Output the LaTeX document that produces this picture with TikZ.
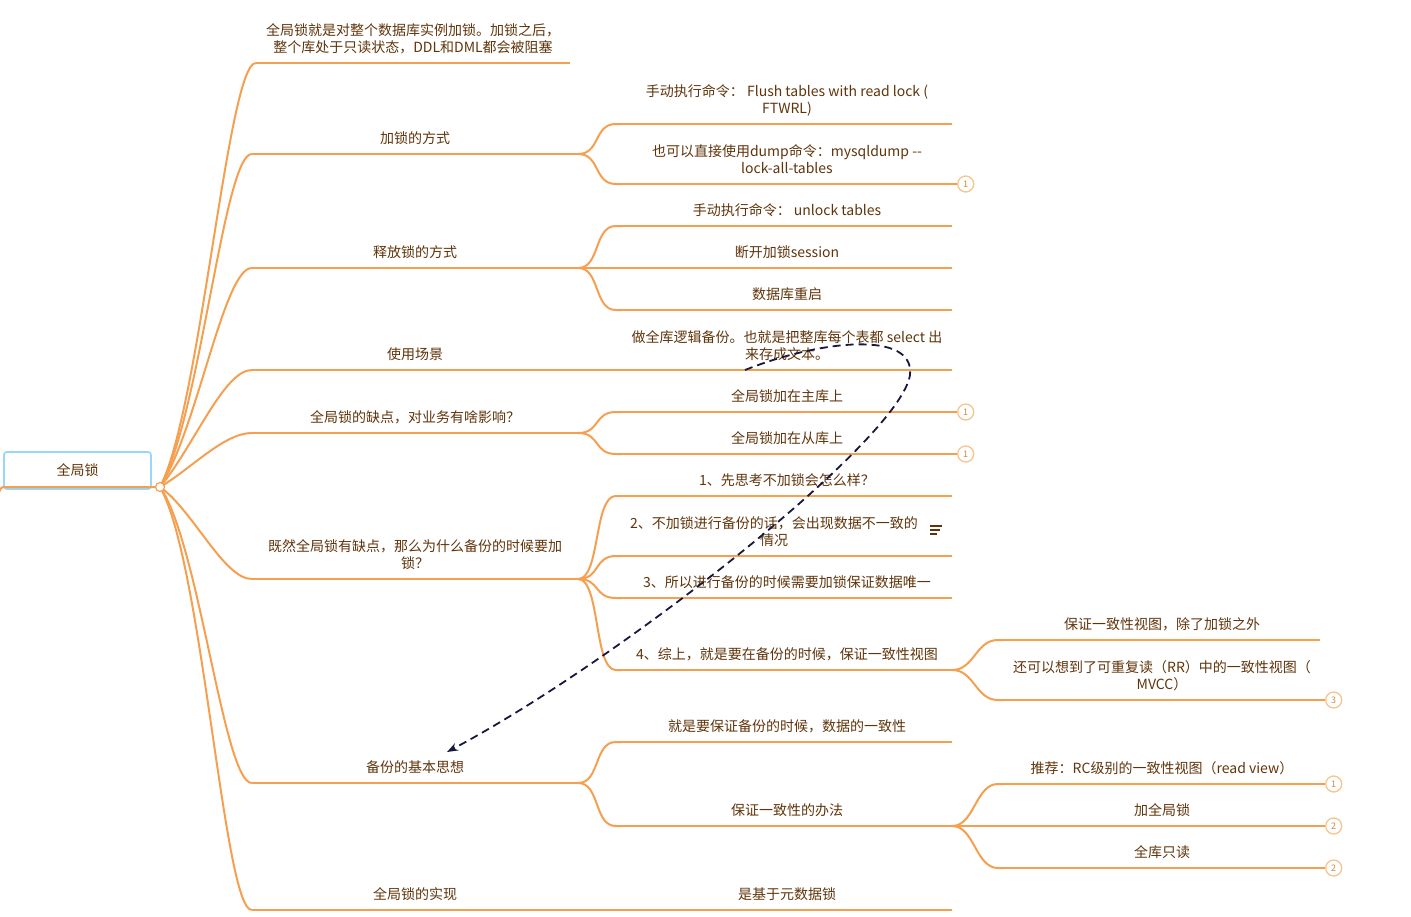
\documentclass[tikz,border=0pt]{standalone}
\usepackage{fontspec}
\setmainfont{Noto Sans CJK SC}
\usetikzlibrary{arrows.meta}

\definecolor{ink}{RGB}{96,52,10}
\definecolor{twig}{RGB}{245,160,80}
\definecolor{sky}{RGB}{150,215,250}
\definecolor{navy}{RGB}{22,24,62}
\definecolor{ring}{RGB}{248,195,140}

% curved connector from a parent topic to a child topic
\newcommand{\twig}[2]{\draw[branch] (#1.south east) .. controls +(22,0) and +(-22,0) .. ([xshift=-6pt]#2.south west) -- (#2.south west);}
% numbered marker at the end of a topic line
\newcommand{\badge}[3]{\node[badge] (#1) at ([xshift=13.5pt]#2.south east) {#3};
    \draw[branch] (#2.south east) -- (#1.west);}

\begin{document}
\begin{tikzpicture}[x=1pt, y=-1pt,
        topic/.style={text=ink, font=\fontsize{14}{17}\selectfont, align=center,
            inner xsep=0pt, inner ysep=10.7pt, text depth=0pt, anchor=south},
        main/.style={topic, minimum width=326pt},
        sub/.style={topic, minimum width=330pt},
        leaf/.style={topic, minimum width=316pt},
        branch/.style={draw=twig, line width=2pt},
        badge/.style={circle, draw=ring, fill=white, line width=1.3pt, minimum size=16pt,
            inner sep=0pt, text=twig!85!black, font=\fontsize{9}{9}\selectfont},
        hubdot/.style={circle, draw=twig, fill=white, line width=1.2pt, minimum size=9pt, inner sep=0pt},
        rootbox/.style={draw=sky, line width=1.8pt, rounded corners=3pt, minimum width=147pt,
            minimum height=37pt, text=ink, font=\fontsize{14}{17}\selectfont},
        recall/.style={draw=navy, line width=1.8pt, dash pattern=on 8pt off 5pt,
            -{Stealth[length=11pt,width=8pt]}}
    ]
    \useasboundingbox (0,0) rectangle (1411,916);

    \node[rootbox] (root) at (77.5,470.5) {全局锁};
    \coordinate (hub) at (160,487);

    % main topics
    \node[topic, minimum width=314pt] (intro) at (413,63) {全局锁就是对整个数据库实例加锁。加锁之后，\\整个库处于只读状态，DDL和DML都会被阻塞};
    \node[main] (how) at (415,154) {加锁的方式};
    \node[main] (release) at (415,268) {释放锁的方式};
    \node[main] (usage) at (415,370) {使用场景};
    \node[main] (cons) at (415,433) {全局锁的缺点，对业务有啥影响？};
    \node[main] (why) at (415,579) {既然全局锁有缺点，那么为什么备份的时候要加\\锁？};
    \node[main] (idea) at (415,783) {备份的基本思想};
    \node[main] (impl) at (415,910) {全局锁的实现};

    % sub topics
    \node[sub] (ftwrl) at (787,124) {手动执行命令： Flush tables with read lock (\\FTWRL)};
    \node[sub] (dump) at (787,184) {也可以直接使用dump命令：mysqldump -{}-\\lock-all-tables};
    \node[sub] (unlock) at (787,226) {手动执行命令： unlock tables};
    \node[sub] (session) at (787,268) {断开加锁session};
    \node[sub] (restart) at (787,310) {数据库重启};
    \node[sub] (scene) at (787,370) {做全库逻辑备份。也就是把整库每个表都 select 出\\来存成文本。};
    \node[sub] (master) at (787,412) {全局锁加在主库上};
    \node[sub] (slave) at (787,454) {全局锁加在从库上};
    \node[sub] (step1) at (787,496) {1、先思考不加锁会怎么样？};
    \node[sub] (step2) at (787,556) {\parbox[b]{304pt}{\centering 2、不加锁进行备份的话，会出现数据不一致的\\情况}\hspace{26pt}};
    \node[sub] (step3) at (787,598) {3、所以进行备份的时候需要加锁保证数据唯一};
    \node[sub] (step4) at (787,670) {4、综上，就是要在备份的时候，保证一致性视图};
    \node[sub] (goal) at (787,742) {就是要保证备份的时候，数据的一致性};
    \node[sub] (method) at (787,826) {保证一致性的办法};
    \node[sub] (meta) at (787,910) {是基于元数据锁};

    % leaf topics
    \node[leaf] (view) at (1162,640) {保证一致性视图，除了加锁之外};
    \node[leaf] (mvcc) at (1162,700) {还可以想到了可重复读（RR）中的一致性视图（\\MVCC）};
    \node[leaf] (rc) at (1162,784) {推荐：RC级别的一致性视图（read view）};
    \node[leaf] (lockall) at (1162,826) {加全局锁};
    \node[leaf] (readonly) at (1162,868) {全库只读};

    % topic lines
    \foreach \n in {intro,how,release,usage,cons,why,idea,impl,
            ftwrl,dump,unlock,session,restart,scene,master,slave,
            step1,step2,step3,step4,goal,method,meta,
            view,mvcc,rc,lockall,readonly}
        \draw[branch] (\n.south west) -- (\n.south east);

    % root line and its links
    \draw[branch] (hub) -- (root.west |- hub) .. controls +(-3,0) and +(0,-6) .. +(-5,13);
    \foreach \c/\a/\r in {intro/-62/85, how/-60/80, release/-57/68, usage/-50/52,
            cons/-30/35, why/35/40, idea/55/68, impl/60/85}
        \draw[branch] (hub) .. controls +(\a:\r) and +(-28,0) .. (\c.south west);
    \node[hubdot] (hubdot) at (hub) {};

    \twig{how}{ftwrl} \twig{how}{dump}
    \twig{release}{unlock} \twig{release}{session} \twig{release}{restart}
    \twig{usage}{scene}
    \twig{cons}{master} \twig{cons}{slave}
    \twig{why}{step1} \twig{why}{step2} \twig{why}{step3} \twig{why}{step4}
    \twig{idea}{goal} \twig{idea}{method}
    \twig{impl}{meta}
    \twig{step4}{view} \twig{step4}{mvcc}
    \twig{method}{rc} \twig{method}{lockall} \twig{method}{readonly}

    \badge{b1}{dump}{1}
    \badge{b2}{master}{1}
    \badge{b3}{slave}{1}
    \badge{b4}{mvcc}{3}
    \badge{b5}{rc}{1}
    \badge{b6}{lockall}{2}
    \badge{b7}{readonly}{2}

    % note mark
    \draw[ink, line width=1.1pt] ([shift={(-22,-30)}]step2.south east) -- +(12,0)
        ([shift={(-22,-26)}]step2.south east) -- +(10,0)
        ([shift={(-22,-22)}]step2.south east) -- +(7,0);

    % dashed link
    \coordinate (turn) at (910,375);
    \draw[recall] ([xshift=-42pt]scene.south) .. controls (820,340) and (915,330) .. (turn)
        .. controls (900,440) and (620,660) .. ([shift={(32,-31)}]idea.south);
\end{tikzpicture}
\end{document}
